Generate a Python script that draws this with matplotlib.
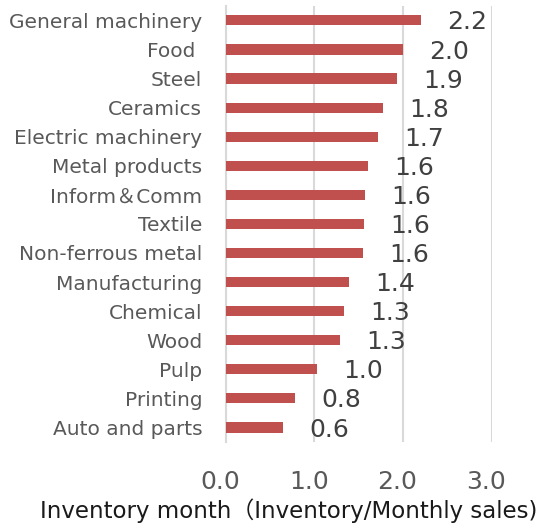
import matplotlib.pyplot as plt
import matplotlib.transforms as mtransforms

plt.rcParams['font.family'] = ['DejaVu Sans', 'Noto Sans CJK JP']

# Inventory months by industry, top to bottom
industries = ['General machinery', 'Food ', 'Steel', 'Ceramics', 'Electric machinery',
              'Metal products', 'Inform＆Comm', 'Textile', 'Non-ferrous metal',
              'Manufacturing', 'Chemical', 'Wood', 'Pulp', 'Printing', 'Auto and parts']
months = [2.20, 2.00, 1.93, 1.77, 1.72, 1.60, 1.57, 1.56, 1.55,
          1.39, 1.33, 1.29, 1.03, 0.78, 0.64]
xticks = [0.0, 1.0, 2.0, 3.0]

BAR = '#C0504D'
GRID = '#D9D9D9'

fig = plt.figure(figsize=(5.44, 5.29), dpi=100)
ax = fig.add_axes([0.415, 0.1645, 0.489, 0.8245])

pos = list(range(len(industries)))[::-1]
ax.barh(pos, months, height=0.35, color=BAR, zorder=3)

for y, v in zip(pos, months):
    ax.annotate(f'{v:.1f}', (v, y), xytext=(19, -1.5), textcoords='offset points',
                ha='left', va='center', fontsize=18, color='#404040')

ax.set_xlim(0, 3)
ax.set_ylim(-0.5, len(industries) - 0.5)
ax.set_yticks(pos)
ax.set_yticklabels(industries, fontsize=14.5, color='#595959')
ax.set_xticks(xticks)
ax.set_xticklabels([f'{t:.1f}' for t in xticks], fontsize=18, color='#595959')
ax.tick_params(axis='y', length=0, pad=17)
ax.tick_params(axis='x', length=0, pad=20)
# nudge the x tick labels a little to the left
shift = mtransforms.ScaledTranslation(-4 / 72, 0, fig.dpi_scale_trans)
for lbl in ax.get_xticklabels():
    lbl.set_transform(lbl.get_transform() + shift)
ax.grid(axis='x', color=GRID, linewidth=1.5, zorder=0)

for side in ['top', 'right', 'bottom']:
    ax.spines[side].set_visible(False)
ax.spines['left'].set_color(GRID)
ax.spines['left'].set_linewidth(1.5)

fig.text(289 / 544, 1 - 518 / 529, 'Inventory month（Inventory/Monthly sales)',
         fontsize=16.5, color='#1a1a1a', ha='center', va='baseline')

fig.savefig('out.png', dpi=100)
